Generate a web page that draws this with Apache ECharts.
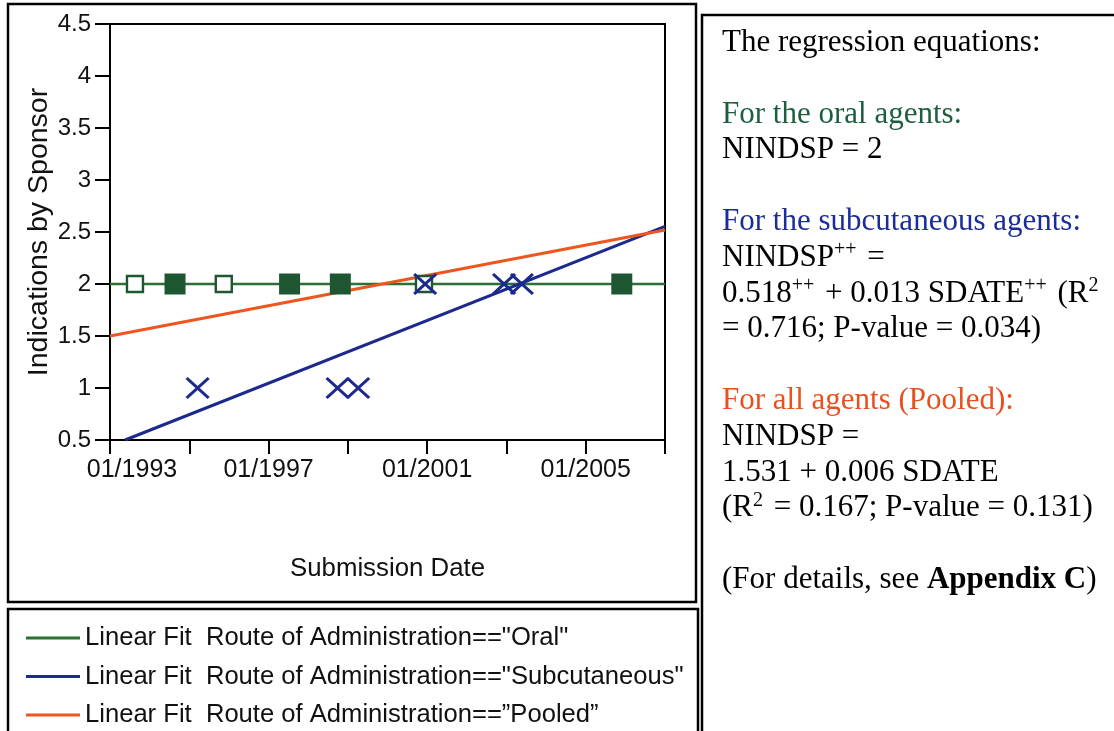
<!DOCTYPE html>
<html>
<head>
<meta charset="utf-8">
<title>Indications by Sponsor vs Submission Date</title>
<script src="https://cdn.jsdelivr.net/npm/echarts@6/dist/echarts.min.js"></script>
<style>
  html, body { margin: 0; padding: 0; background: #fff; }
  #chart { width: 1114px; height: 731px; }
</style>
</head>
<body>
<div id="chart"></div>
<script>
// ---- data (dates in decimal years) ----
const xTickYears = [1993, 1997, 2001, 2005];

const oralOpenDates = [1993.63, 1995.87, 2000.92];
const oralOpenValues = [2, 2, 2];
const oralFilledDates = [1994.64, 1997.53, 1998.81, 2005.91];
const oralFilledValues = [2, 2, 2, 2];

const subDates = [1995.21, 1998.74, 1999.26, 2000.95, 2002.94, 2003.39];
const subValues = [1, 1, 1, 2, 2, 2];

const fitDates = [1993, 2007];
const oralFit = [2, 2];
const pooledFit = [1.50, 2.52];
const subFitDates = [1993.38, 2007];
const subFit = [0.5, 2.555];

const fitNames = [
  'Linear Fit  Route of Administration=="Oral"',
  'Linear Fit  Route of Administration=="Subcutaneous"',
  'Linear Fit  Route of Administration==\u201DPooled\u201D'
];

const panelLines = [
  'The regression equations:',
  '',
  '{g|For the oral agents:}',
  'NINDSP = 2',
  '',
  '{bl|For the subcutaneous agents:}',
  'NINDSP{sup|++} =',
  '0.518{sup|++} + 0.013 SDATE{sup|++} (R{sup|2}',
  '= 0.716; P-value = 0.034)',
  '',
  '{o|For all agents (Pooled):}',
  'NINDSP =',
  '1.531 + 0.006 SDATE',
  '(R{sup|2} = 0.167; P-value = 0.131)',
  '',
  '(For details, see {b|Appendix C})'
];

// ---- helpers ----
const X0 = 1993;
const toX = d => +(d - X0).toFixed(3);
const pairs = (xs, ys) => xs.map((x, i) => [toX(x), ys[i]]);

const SANS = '"Liberation Sans", Arial, sans-serif';
const SERIF = '"Liberation Serif", "Times New Roman", serif';

const GREEN = '#2c7038';
const GREEN_DARK = '#1f5632';
const BLUE = '#1b2a8c';
const ORANGE = '#ee5620';

// ---- frames and right-hand text panel ----
const graphics = [
  { type: 'rect', z: 0, shape: { x: 8, y: 4, width: 688, height: 598 },
    style: { fill: 'none', stroke: '#000', lineWidth: 2.5 } },
  { type: 'rect', z: 0, shape: { x: 8, y: 609, width: 690, height: 140 },
    style: { fill: 'none', stroke: '#000', lineWidth: 2.5 } },
  { type: 'rect', z: 0, shape: { x: 702, y: 15, width: 430, height: 740 },
    style: { fill: 'none', stroke: '#000', lineWidth: 2.5 } }
];

const panelRich = {
  g: { fill: '#1d5e3e', fontSize: 31, fontFamily: SERIF, lineHeight: 35.8 },
  bl: { fill: '#1a2d98', fontSize: 31, fontFamily: SERIF, lineHeight: 35.8 },
  o: { fill: '#e8501e', fontSize: 31, fontFamily: SERIF, lineHeight: 35.8 },
  b: { fill: '#000', fontSize: 31, fontFamily: SERIF, fontWeight: 'bold', lineHeight: 35.8 },
  sup: { fill: '#000', fontSize: 20, fontFamily: SERIF, lineHeight: 20, verticalAlign: 'top',
         padding: [0, 3, 0, 0] }
};

panelLines.forEach((line, i) => {
  if (!line) return;
  graphics.push({
    type: 'text',
    z: 10,
    x: 722,
    y: 53 - 28 + i * 35.8,
    style: {
      text: line,
      fill: '#000',
      fontSize: 31,
      fontFamily: SERIF,
      lineHeight: 35.8,
      verticalAlign: 'top',
      align: 'left',
      rich: panelRich
    }
  });
});

// ---- chart ----
const chart = echarts.init(document.getElementById('chart'), null, { renderer: 'canvas' });

const option = {
  animation: false,
  backgroundColor: '#fff',
  grid: {
    left: 110, top: 24, width: 555, height: 416,
    show: true, borderColor: '#000', borderWidth: 2, backgroundColor: 'transparent'
  },
  legend: {
    data: fitNames,
    orient: 'vertical',
    left: 26,
    top: 625,
    height: 130,
    padding: 0,
    icon: 'rect',
    itemWidth: 54,
    itemHeight: 3,
    itemGap: 12.5,
    selectedMode: false,
    textStyle: { fontSize: 25.6, fontFamily: SANS, color: '#111', lineHeight: 25 }
  },
  xAxis: {
    type: 'value',
    min: 0,
    max: 14,
    interval: 2,
    name: 'Submission Date',
    nameLocation: 'middle',
    nameGap: 116,
    nameTextStyle: { fontSize: 25.8, fontFamily: SANS, color: '#111' },
    axisLine: { show: true, onZero: false, lineStyle: { color: '#000', width: 2 } },
    axisTick: { show: true, length: 14, lineStyle: { color: '#000', width: 2 } },
    splitLine: { show: false },
    axisLabel: {
      margin: 18,
      fontSize: 25,
      fontFamily: SANS,
      color: '#111',
      formatter: v => {
        const yr = X0 + v;
        if (xTickYears.indexOf(yr) < 0) return '';
        const txt = '01/' + yr;
        return v === 0 ? '{first|' + txt + '}' : txt;
      },
      rich: {
        first: { padding: [0, 0, 0, 44], fontSize: 25, fontFamily: SANS, color: '#111' }
      }
    }
  },
  yAxis: {
    type: 'value',
    min: 0.5,
    max: 4.5,
    interval: 0.5,
    name: 'Indications by Sponsor',
    nameLocation: 'middle',
    nameRotate: 90,
    nameGap: 56,
    nameTextStyle: { fontSize: 28.5, fontFamily: SANS, color: '#111' },
    axisLine: { show: true, onZero: false, lineStyle: { color: '#000', width: 2 } },
    axisTick: { show: true, length: 15, lineStyle: { color: '#000', width: 2 } },
    splitLine: { show: false },
    axisLabel: { margin: 19, fontSize: 24, fontFamily: SANS, color: '#111' }
  },
  series: [
    {
      name: fitNames[0], type: 'line', data: pairs(fitDates, oralFit),
      showSymbol: false, symbol: 'none', color: GREEN,
      lineStyle: { color: GREEN, width: 2.5 }, z: 2
    },
    {
      name: fitNames[1], type: 'line', data: pairs(subFitDates, subFit),
      showSymbol: false, symbol: 'none', color: BLUE,
      lineStyle: { color: BLUE, width: 3 }, z: 2
    },
    {
      name: fitNames[2], type: 'line', data: pairs(fitDates, pooledFit),
      showSymbol: false, symbol: 'none', color: ORANGE,
      lineStyle: { color: ORANGE, width: 3 }, z: 2
    },
    {
      name: 'Oral (open)', type: 'scatter', data: pairs(oralOpenDates, oralOpenValues),
      symbol: 'rect', symbolSize: 16, z: 4,
      itemStyle: { color: '#fff', borderColor: GREEN_DARK, borderWidth: 2.4, opacity: 1 }
    },
    {
      name: 'Oral', type: 'scatter', data: pairs(oralFilledDates, oralFilledValues),
      symbol: 'rect', symbolSize: 21, z: 4,
      itemStyle: { color: GREEN_DARK, opacity: 1 }
    },
    {
      name: 'Subcutaneous', type: 'scatter', data: pairs(subDates, subValues),
      symbol: 'path://M0 0L20 20M20 0L0 20', symbolSize: [22, 20], z: 5,
      itemStyle: { color: 'none', borderColor: BLUE, borderWidth: 3, opacity: 1 }
    }
  ],
  graphic: graphics
};

chart.setOption(option);
</script>
</body>
</html>
